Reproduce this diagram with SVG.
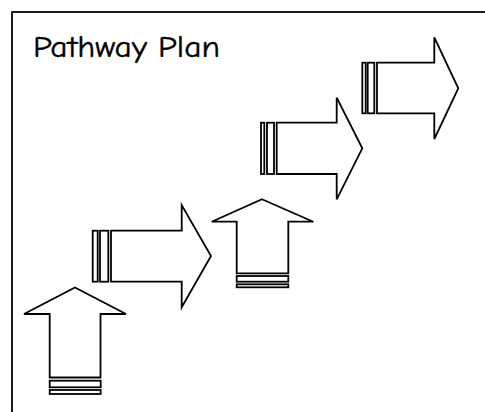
<svg xmlns="http://www.w3.org/2000/svg" width="485" height="412" viewBox="0 0 485 412">
  <style>
    .frame { fill: #fff; stroke: #000; stroke-width: 1.8; }
    .arrow { fill: #fff; stroke: #000; stroke-width: 1.8; stroke-linejoin: miter; }
    .title { font-family: "Comic Sans MS", "Comic Neue", "Liberation Sans", sans-serif; font-size: 30px; fill: #000; stroke: #000; stroke-width: 0.4; }
  </style>
  <rect width="485" height="412" fill="#fff"/>
  <rect class="frame" x="12" y="12" width="490" height="420"/>
  <text class="title" x="33" y="57" textLength="187" lengthAdjust="spacingAndGlyphs">Pathway Plan</text>

  <g id="connectors"/>

  <!-- upward arrow, bottom-left -->
  <g id="up-arrow-1">
    <polygon class="arrow" points="75,287.5 126,314 100.5,314 100.5,377.5 49.7,377.5 49.7,314 24,314"/>
    <rect class="arrow" x="49.7" y="380.7" width="51" height="6.6"/>
    <rect class="arrow" x="49.7" y="390" width="51" height="4"/>
  </g>

  <!-- right arrow, first step -->
  <g id="right-arrow-1">
    <rect class="arrow" x="92.7" y="230.7" width="5" height="51"/>
    <rect class="arrow" x="100" y="230.7" width="8.3" height="51"/>
    <polygon class="arrow" points="111,230.7 181.7,230.7 181.7,205 211,256 181.7,307.3 181.7,281.7 111,281.7"/>
  </g>

  <!-- upward arrow, middle -->
  <g id="up-arrow-2">
    <polygon class="arrow" points="262,199.3 313.3,221.7 288.3,221.7 288.3,273.3 236.7,273.3 236.7,221.7 211.7,221.7"/>
    <rect class="arrow" x="236.7" y="276" width="51.6" height="5.7"/>
    <rect class="arrow" x="236.7" y="284.3" width="51.6" height="3"/>
  </g>

  <!-- right arrow, second step -->
  <g id="right-arrow-2">
    <rect class="arrow" x="261" y="122.7" width="3.3" height="51.3"/>
    <rect class="arrow" x="267" y="122.7" width="7" height="51.3"/>
    <polygon class="arrow" points="276.7,122.7 336.7,122.7 336.7,97.7 362.3,148.3 336.7,199.3 336.7,174 276.7,174"/>
  </g>

  <!-- right arrow, top step -->
  <g id="right-arrow-3">
    <rect class="arrow" x="362.3" y="62.7" width="3.4" height="50.6"/>
    <rect class="arrow" x="367.7" y="62.7" width="6.6" height="50.6"/>
    <polygon class="arrow" points="377,62.7 434.3,62.7 434.3,37.3 458.3,88.3 434.3,139 434.3,113.3 377,113.3"/>
  </g>
</svg>
